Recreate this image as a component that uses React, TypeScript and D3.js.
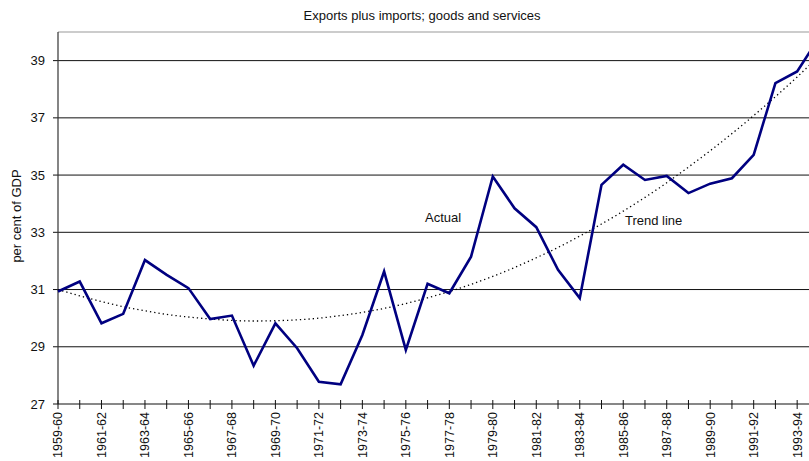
import React from "react";
import * as d3 from "d3";

const categories: string[] = [
  "1959-60", "1960-61", "1961-62", "1962-63", "1963-64", "1964-65", "1965-66", "1966-67",
  "1967-68", "1968-69", "1969-70", "1970-71", "1971-72", "1972-73", "1973-74", "1974-75",
  "1975-76", "1976-77", "1977-78", "1978-79", "1979-80", "1980-81", "1981-82", "1982-83",
  "1983-84", "1984-85", "1985-86", "1986-87", "1987-88", "1988-89", "1989-90", "1990-91",
  "1991-92", "1992-93", "1993-94", "1994-95",
];

const actual: number[] = [
  30.93, 31.28, 29.82, 30.15, 32.03, 31.51, 31.05, 29.97,
  30.09, 28.34, 29.82, 28.95, 27.78, 27.69, 29.41, 31.63,
  28.89, 31.2, 30.87, 32.15, 34.95, 33.84, 33.18, 31.69,
  30.7, 34.66, 35.36, 34.83, 34.97, 34.37, 34.7, 34.89,
  35.71, 38.21, 38.62, 39.8,
];

const trend: number[] = [
  31.0, 30.78, 30.58, 30.4, 30.26, 30.13, 30.04, 29.97,
  29.92, 29.9, 29.91, 29.94, 30.0, 30.09, 30.2, 30.34,
  30.51, 30.71, 30.93, 31.18, 31.46, 31.77, 32.11, 32.47,
  32.87, 33.29, 33.74, 34.22, 34.73, 35.28, 35.85, 36.45,
  37.08, 37.74, 38.43, 39.16,
];

const yTicks: number[] = [27, 29, 31, 33, 35, 37, 39];

const title = "Exports plus imports; goods and services";
const yLabel = "per cent of GDP";

export default function App() {
  const W = 809;
  const H = 461;
  const left = 58;
  const step = 21.74;
  const x = d3
    .scalePoint<string>()
    .domain(categories)
    .range([left, left + step * (categories.length - 1)]);
  const y = d3.scaleLinear().domain([27, 40]).range([404, 32]);

  const lineA = d3
    .line<number>()
    .x((_, i) => x(categories[i]) as number)
    .y((d) => y(d));
  const lineT = d3
    .line<number>()
    .x((_, i) => x(categories[i]) as number)
    .y((d) => y(d))
    .curve(d3.curveMonotoneX);

  const font = "'Liberation Sans', Arial, sans-serif";

  return (
    <svg
      width={W}
      height={H}
      style={{ position: "absolute", left: 0, top: 0, display: "block", background: "#fff" }}
      fontFamily={font}
    >
      <defs>
        <clipPath id="clip">
          <rect x={0} y={0} width={W} height={H} />
        </clipPath>
      </defs>
      <text x={422} y={20} textAnchor="middle" fontSize={13} fill="#111">
        {title}
      </text>
      <line x1={left} x2={W} y1={y(40)} y2={y(40)} stroke="#999" strokeWidth={1.2} />
      {yTicks.map((t) => (
        <g key={t}>
          {t !== 27 && (
            <line x1={left} x2={W} y1={y(t)} y2={y(t)} stroke="#111" strokeWidth={1} />
          )}
          <line x1={left - 5} x2={left} y1={y(t)} y2={y(t)} stroke="#111" strokeWidth={1} />
          <text
            x={left - 13}
            y={y(t)}
            dy="0.35em"
            textAnchor="end"
            fontSize={13}
            fill="#111"
          >
            {t}
          </text>
        </g>
      ))}
      <line x1={left} x2={left} y1={y(40)} y2={y(27)} stroke="#333" strokeWidth={1.2} />
      <line x1={left} x2={W} y1={y(27)} y2={y(27)} stroke="#111" strokeWidth={1.2} />
      {categories.map((c, i) => {
        const cx = x(c) as number;
        return (
          <g key={c}>
            <line x1={cx} x2={cx} y1={y(27) - 4} y2={y(27) + 5} stroke="#111" strokeWidth={1} />
            {i % 2 === 0 && (
              <text
                transform={`translate(${cx},${y(27) + 8}) rotate(-90)`}
                textAnchor="end"
                dy="0.35em"
                fontSize={12.5}
                fill="#111"
              >
                {c}
              </text>
            )}
          </g>
        );
      })}
      <text
        transform={`translate(16,${216}) rotate(-90)`}
        textAnchor="middle"
        dy="0.35em"
        fontSize={13}
        fill="#111"
      >
        {yLabel}
      </text>
      <g clipPath="url(#clip)">
        <path
          d={lineT(trend) || ""}
          fill="none"
          stroke="#000"
          strokeWidth={1.3}
          strokeDasharray="1.3,3"
        />
        <path
          d={lineA(actual) || ""}
          fill="none"
          stroke="#000080"
          strokeWidth={2.6}
          strokeLinejoin="miter"
        />
      </g>
      <text x={425} y={222} fontSize={13} fill="#111">
        Actual
      </text>
      <text x={625} y={225} fontSize={13} fill="#111">
        Trend line
      </text>
    </svg>
  );
}
